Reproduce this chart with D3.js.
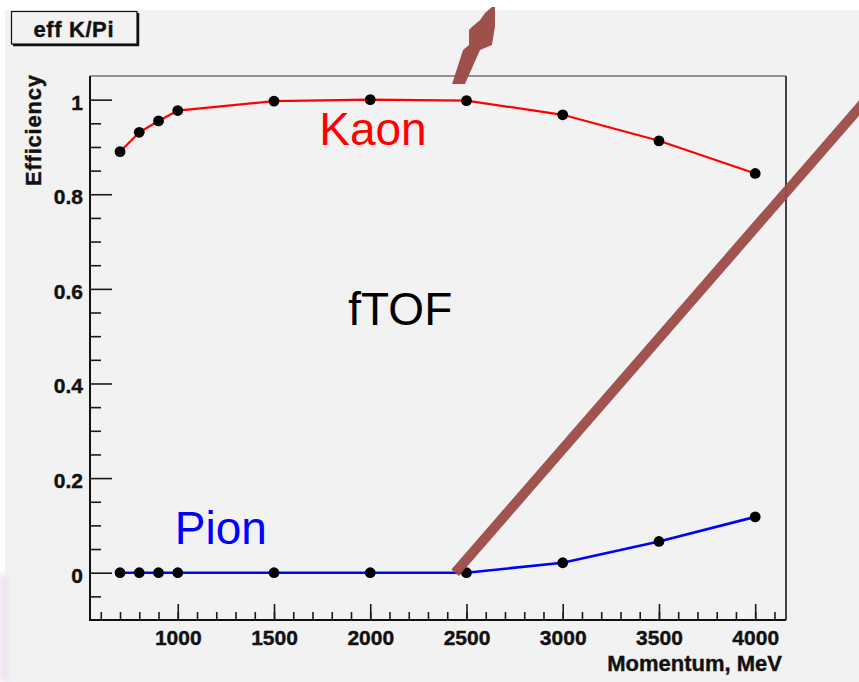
<!DOCTYPE html>
<html>
<head>
<meta charset="utf-8">
<script src="https://cdn.jsdelivr.net/npm/d3@7"></script>
<style>
  html, body { margin: 0; padding: 0; background: #ffffff; }
  svg { display: block; }
  text { font-family: "Liberation Sans", Arial, Helvetica, sans-serif; }
</style>
</head>
<body>
<svg id="chart" width="859" height="682"></svg>
<script>
// Momentum points (MeV) and efficiencies for the fTOF K/Pi separation
const momentum = [700, 800, 900, 1000, 1500, 2000, 2500, 3000, 3500, 4000];
const kaonEff  = [0.890, 0.931, 0.955, 0.977, 0.997, 1.000, 0.998, 0.968, 0.913, 0.844];
const pionEff  = [0.000, 0.000, 0.000, 0.000, 0.000, 0.000, 0.000, 0.021, 0.066, 0.118];

// Axis ticks
const xMajorTicks = [1000, 1500, 2000, 2500, 3000, 3500, 4000];
const xMinorTicks = d3.range(600, 4101, 100);
const yMajorTicks = [0, 0.2, 0.4, 0.6, 0.8, 1];
const yMinorTicks = [-0.05, 0.05, 0.1, 0.15, 0.25, 0.3, 0.35, 0.45, 0.5, 0.55, 0.65, 0.7, 0.75, 0.85, 0.9, 0.95];

// Texts
const histTitle = "eff K/Pi";
const xTitle = "Momentum, MeV";
const yTitle = "Efficiency";
const kaonLabel = "Kaon";
const pionLabel = "Pion";
const detectorLabel = "fTOF";

// Hand-drawn highlight strokes, in (momentum, efficiency) units
const slashLine = [[2441, 0.0], [4753, 1.082]];
const upArrow = [[2425, 1.033], [2482, 1.105], [2513, 1.1155], [2513, 1.147], [2529, 1.154],
                 [2570, 1.168], [2596, 1.183], [2632, 1.196], [2648, 1.196], [2648, 1.154],
                 [2632, 1.1155], [2570, 1.105], [2492, 1.033]];

const svg = d3.select("#chart");
const W = 859, H = 682;
const frame = { left: 90, right: 786, top: 76, bottom: 620 };

// pad background
svg.append("rect").attr("x", 0).attr("y", 0).attr("width", W).attr("height", H).attr("fill", "#ffffff");
svg.append("rect").attr("x", 5).attr("y", 10).attr("width", W - 5).attr("height", H - 10).attr("fill", "#f2f2f2");
// faint tint along the lower left edge
const defs = svg.append("defs");
const fog = defs.append("filter").attr("id", "fog").attr("x", "-50%").attr("y", "-50%").attr("width", "200%").attr("height", "200%");
fog.append("feGaussianBlur").attr("stdDeviation", 3);
svg.append("rect").attr("x", 0).attr("y", 575).attr("width", 7).attr("height", 107)
  .attr("fill", "#eadcea").attr("filter", "url(#fog)");

const x = d3.scaleLinear().domain([544, 4160]).range([frame.left, frame.right]);
const y = d3.scaleLinear().domain([-0.1, 1.05]).range([frame.bottom, frame.top]);

// frame (top and right)
svg.append("line").attr("x1", frame.left).attr("x2", frame.right).attr("y1", frame.top).attr("y2", frame.top)
  .attr("stroke", "#333").attr("stroke-width", 1.2);
svg.append("line").attr("x1", frame.right).attr("x2", frame.right).attr("y1", frame.top).attr("y2", frame.bottom)
  .attr("stroke", "#444").attr("stroke-width", 2);

// y axis
const yMajor = svg.append("g").attr("transform", `translate(${frame.left},0)`)
  .call(d3.axisLeft(y).tickValues(yMajorTicks).tickSize(-22).tickPadding(7).tickFormat(d3.format("~g")));
const yMinor = svg.append("g").attr("transform", `translate(${frame.left},0)`)
  .call(d3.axisLeft(y).tickValues(yMinorTicks).tickSize(-11).tickFormat(""));
// x axis
const xMajor = svg.append("g").attr("transform", `translate(0,${frame.bottom})`)
  .call(d3.axisBottom(x).tickValues(xMajorTicks).tickSize(-16).tickPadding(10).tickFormat(d3.format("d")));
const xMinor = svg.append("g").attr("transform", `translate(0,${frame.bottom})`)
  .call(d3.axisBottom(x).tickValues(xMinorTicks).tickSize(-8).tickFormat(""));

[yMajor, yMinor, xMajor, xMinor].forEach(g => {
  g.select(".domain").remove();
  g.selectAll(".tick line").attr("stroke", "#1a1a1a").attr("stroke-width", 1.6);
  g.selectAll(".tick text").attr("fill", "#111").attr("font-size", 21).attr("font-weight", "bold")
    .attr("stroke", "#111").attr("stroke-width", 0.4)
    .style("font-family", '"Liberation Sans", Arial, sans-serif');
});
yMajor.selectAll(".tick text").attr("dy", "0.45em");

// axis lines
svg.append("line").attr("x1", frame.left).attr("x2", frame.left).attr("y1", frame.top).attr("y2", frame.bottom + 1)
  .attr("stroke", "#111").attr("stroke-width", 2);
svg.append("line").attr("x1", frame.left - 1).attr("x2", frame.right).attr("y1", frame.bottom).attr("y2", frame.bottom)
  .attr("stroke", "#111").attr("stroke-width", 2);

// axis titles
svg.append("text").attr("x", 782).attr("y", 671).attr("text-anchor", "end")
  .attr("font-size", 22).attr("font-weight", "bold").attr("fill", "#111")
  .attr("stroke", "#111").attr("stroke-width", 0.4).text(xTitle);
svg.append("text").attr("transform", "translate(40.5,75) rotate(-90)").attr("text-anchor", "end")
  .attr("font-size", 22).attr("font-weight", "bold").attr("fill", "#111")
  .attr("stroke", "#111").attr("stroke-width", 0.4)
  .attr("textLength", 111).attr("lengthAdjust", "spacing").text(yTitle);

// curves through the measured points
const line = d3.line().x(d => x(d[0])).y(d => y(d[1]));
const kaon = momentum.map((m, i) => [m, kaonEff[i]]);
const pion = momentum.map((m, i) => [m, pionEff[i]]);

svg.append("path").datum(kaon).attr("d", line).attr("fill", "none").attr("stroke", "#ff0000").attr("stroke-width", 2.2);
svg.append("path").datum(pion).attr("d", line).attr("fill", "none").attr("stroke", "#0000ff").attr("stroke-width", 2.6);

svg.append("g").selectAll("circle").data(kaon.concat(pion)).join("circle")
  .attr("cx", d => x(d[0])).attr("cy", d => y(d[1])).attr("r", 5.4).attr("fill", "#000");

// labels
svg.append("text").attr("x", x(2014)).attr("y", y(0.904)).attr("text-anchor", "middle")
  .attr("font-size", 46).attr("fill", "#ff0000").text(kaonLabel);
svg.append("text").attr("x", x(2156)).attr("y", y(0.5236)).attr("text-anchor", "middle")
  .attr("font-size", 46).attr("fill", "#000").text(detectorLabel);
svg.append("text").attr("x", x(1224)).attr("y", y(0.06)).attr("text-anchor", "middle")
  .attr("font-size", 46).attr("fill", "#0000ff").text(pionLabel);

// title box
svg.append("line").attr("x1", 13).attr("x2", 139).attr("y1", 45).attr("y2", 45).attr("stroke", "#111").attr("stroke-width", 2.5);
svg.append("line").attr("x1", 138).attr("x2", 138).attr("y1", 13).attr("y2", 46).attr("stroke", "#111").attr("stroke-width", 2.5);
svg.append("rect").attr("x", 11.5).attr("y", 11.5).attr("width", 125.5).attr("height", 32.5)
  .attr("fill", "#f2f2f2").attr("stroke", "#111").attr("stroke-width", 1.2);
svg.append("text").attr("x", 73.5).attr("y", 37).attr("text-anchor", "middle")
  .attr("font-size", 22).attr("font-weight", "bold").attr("fill", "#111")
  .attr("stroke", "#111").attr("stroke-width", 0.4)
  .attr("textLength", 80).attr("lengthAdjust", "spacing").text(histTitle);

// highlight strokes drawn over the plot
const brown = "#9b4a46";
svg.append("path").datum(slashLine).attr("d", d3.line().x(d => x(d[0])).y(d => y(d[1])))
  .attr("stroke", brown).attr("stroke-width", 10).attr("stroke-linecap", "butt").attr("fill", "none").attr("opacity", 0.95);
svg.append("path").datum(upArrow).attr("d", d3.line().x(d => x(d[0])).y(d => y(d[1])).curve(d3.curveLinearClosed))
  .attr("fill", brown).attr("opacity", 0.97);
</script>
</body>
</html>
